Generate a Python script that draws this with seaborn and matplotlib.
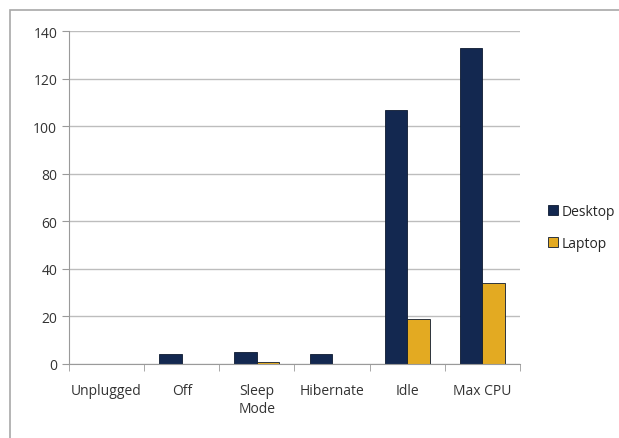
import matplotlib
matplotlib.use("Agg")
import matplotlib.pyplot as plt
import seaborn as sns
import pandas as pd
from matplotlib.patches import Rectangle

categories = ["Unplugged", "Off", "Sleep\nMode", "Hibernate", "Idle", "Max CPU"]
desktop = [0, 4.2, 5, 4.2, 107, 133]
laptop = [0, 0, 1, 0, 19, 34]
series = ["Desktop", "Laptop"]
colors = {"Desktop": "#132850", "Laptop": "#e3aa22"}

df = pd.DataFrame({
    "category": categories * 2,
    "value": desktop + laptop,
    "series": ["Desktop"] * len(categories) + ["Laptop"] * len(categories),
})

sns.set_style("white")
plt.rcParams["font.family"] = ["Open Sans", "DejaVu Sans"]

fig = plt.figure(figsize=(6.19, 4.39), dpi=100)
ax = fig.add_axes([0.1115, 0.1686, 0.7285, 0.7584])
sns.barplot(data=df, x="category", y="value", hue="series", palette=colors, saturation=1,
            width=0.6, edgecolor="#0d1a30", linewidth=0.6, ax=ax, legend=False)

ax.set_ylim(0, 140)
ax.set_yticks(range(0, 141, 20))
ax.yaxis.grid(True, color="#bdbdbd", linewidth=1.0)
ax.set_axisbelow(True)
ax.set_xlim(-0.5, len(categories) - 0.5)
ax.set_xlabel("")
ax.set_ylabel("")
for s in ["top", "right"]:
    ax.spines[s].set_visible(False)
ax.spines["left"].set_color("#9a9a9a")
ax.spines["bottom"].set_color("#9a9a9a")
ax.tick_params(axis="y", length=5, color="#9a9a9a", labelsize=10, labelcolor="#333333", direction="out", left=True)
ax.tick_params(axis="x", length=0, labelsize=10, labelcolor="#333333", pad=14)
ax.set_xticks(range(len(categories)))
ax.set_xticklabels(categories)
ax.set_xticks([i + 0.5 for i in range(-1, len(categories))], minor=True)
ax.tick_params(axis="x", which="minor", length=5, color="#9a9a9a", direction="out", bottom=True)

handles = [Rectangle((0, 0), 1, 1, facecolor=colors[s], edgecolor="#0d1a30", linewidth=0.6) for s in series]
fig.legend(handles, series, loc="center left", bbox_to_anchor=(0.865, 0.48), frameon=False,
           fontsize=10, handlelength=0.7, handleheight=0.7, handletextpad=0.3, labelspacing=1.2)

fig.patches.append(Rectangle((0.016, -0.1), 1.2, 1.075, transform=fig.transFigure,
                             fill=False, edgecolor="#a8a8a8", linewidth=1.2))

fig.savefig("out.png", dpi=100)
